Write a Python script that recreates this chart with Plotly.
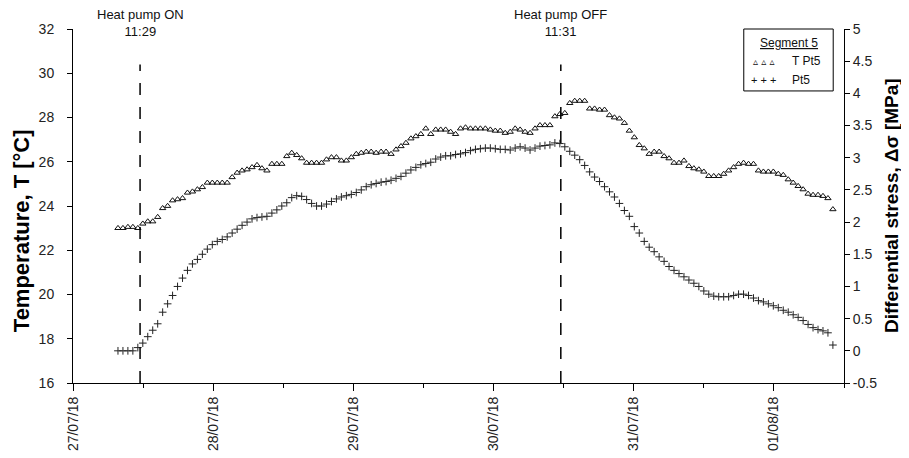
import pandas as pd
import plotly.graph_objects as go

# ---------------- data ----------------
start_time = "2018-07-27 07:42"
n_points = 145
step = "51min"

temperature_pt5 = [
    23.0, 23.0, 23.05, 23.05, 23.0, 23.2, 23.3, 23.3, 23.5, 23.9,
    24.0, 24.25, 24.3, 24.35, 24.6, 24.65, 24.75, 24.85, 25.05, 25.05,
    25.05, 25.05, 25.05, 25.3, 25.5, 25.6, 25.65, 25.75, 25.85, 25.7,
    25.6, 25.9, 25.9, 25.9, 26.25, 26.4, 26.3, 26.15, 25.95, 25.95,
    25.95, 25.95, 26.1, 26.2, 26.2, 26.05, 26.05, 26.2, 26.35, 26.4,
    26.45, 26.45, 26.4, 26.45, 26.45, 26.35, 26.55, 26.7, 26.85, 27.05,
    27.15, 27.25, 27.5, 27.25, 27.45, 27.45, 27.45, 27.35, 27.25, 27.5,
    27.55, 27.5, 27.5, 27.5, 27.5, 27.45, 27.4, 27.4, 27.3, 27.35,
    27.5, 27.45, 27.35, 27.3, 27.5, 27.65, 27.65, 27.65, 28.05, 28.15,
    28.2, 28.65, 28.75, 28.75, 28.75, 28.4, 28.4, 28.35, 28.35, 28.1,
    28.0, 27.95, 27.75, 27.4, 27.1, 26.75, 26.6, 26.35, 26.45, 26.45,
    26.25, 26.15, 25.95, 25.95, 26.05, 25.8, 25.7, 25.65, 25.55, 25.35,
    25.35, 25.35, 25.45, 25.6, 25.75, 25.9, 25.95, 25.9, 25.9, 25.6,
    25.55, 25.55, 25.55, 25.45, 25.4, 25.2, 25.05, 24.9, 24.75, 24.55,
    24.5, 24.5, 24.45, 24.35, 23.85,
]

stress_pt5 = [
    0.0, 0.0, 0.0, 0.0, 0.05, 0.12, 0.22, 0.32, 0.42, 0.6,
    0.73, 0.86, 1.0, 1.13, 1.25, 1.35, 1.42, 1.5, 1.58, 1.65,
    1.7, 1.73, 1.77, 1.83, 1.89, 1.95, 2.0, 2.05, 2.07, 2.08,
    2.09, 2.14, 2.19, 2.25, 2.3, 2.38, 2.41, 2.4, 2.35, 2.29,
    2.25, 2.25, 2.28, 2.32, 2.36, 2.39, 2.41, 2.43, 2.46, 2.5,
    2.55, 2.58, 2.6, 2.62, 2.63, 2.65, 2.68, 2.71, 2.76, 2.81,
    2.85, 2.89, 2.91, 2.93, 2.98, 3.01, 3.03, 3.03, 3.05, 3.06,
    3.08, 3.11, 3.13, 3.14, 3.15, 3.15, 3.14, 3.13, 3.13, 3.12,
    3.15, 3.17, 3.15, 3.12, 3.15, 3.18, 3.19, 3.2, 3.23, 3.22,
    3.17, 3.1, 3.04, 2.97, 2.88, 2.78, 2.7, 2.63, 2.55, 2.47,
    2.39, 2.29, 2.18, 2.09, 1.93, 1.83, 1.7, 1.61, 1.54, 1.46,
    1.39, 1.31, 1.25, 1.2, 1.15, 1.1, 1.05, 1.0, 0.93, 0.88,
    0.85, 0.84, 0.84, 0.84, 0.86, 0.88, 0.88, 0.86, 0.82, 0.78,
    0.76, 0.73, 0.7, 0.67, 0.63, 0.6, 0.56, 0.52, 0.47, 0.41,
    0.36, 0.33, 0.31, 0.28, 0.09,
]

x_tick_dates = ["2018-07-27", "2018-07-28", "2018-07-29", "2018-07-30", "2018-07-31", "2018-08-01"]
x_tick_labels = ["27/07/18", "28/07/18", "29/07/18", "30/07/18", "31/07/18", "01/08/18"]
x_minor_dates = ["2018-07-27 12:00", "2018-07-28 12:00", "2018-07-29 12:00",
                 "2018-07-30 12:00", "2018-07-31 12:00", "2018-08-01 12:00"]
x_range = ["2018-07-27 00:00", "2018-08-01 12:00"]

left_ticks = [16, 18, 20, 22, 24, 26, 28, 30, 32]
right_ticks = [-0.5, 0, 0.5, 1, 1.5, 2, 2.5, 3, 3.5, 4, 4.5, 5]
right_tick_labels = ["-0.5", "0", "0.5", "1", "1.5", "2", "2.5", "3", "3.5", "4", "4.5", "5"]

events = ["2018-07-27 11:29", "2018-07-30 11:31"]
event_labels = ["Heat pump ON<br>11:29", "Heat pump OFF<br>11:31"]

times = pd.date_range(start_time, periods=n_points, freq=step)

FONT = "Liberation Sans, Arial, sans-serif"

fig = go.Figure()
fig.add_trace(go.Scatter(
    x=times, y=temperature_pt5, mode="markers", name="T Pt5",
    marker=dict(symbol="triangle-up-open", size=5.5, color="#111",
                line=dict(width=1, color="#111")),
    yaxis="y", showlegend=False,
))
fig.add_trace(go.Scatter(
    x=times, y=stress_pt5, mode="markers", name="Pt5",
    marker=dict(symbol="cross-thin-open", size=5.5, color="#222",
                line=dict(width=1, color="#222")),
    yaxis="y2", showlegend=False,
))

# event dashed lines and labels
for t, lab in zip(events, event_labels):
    fig.add_shape(type="line", xref="x", yref="paper", x0=t, x1=t, y0=0, y1=0.9,
                  line=dict(color="black", width=1.5, dash="12px,12px"))
    fig.add_annotation(x=t, xref="x", y=1, yref="paper", xanchor="center", yanchor="middle",
                       yshift=6, text=lab, showarrow=False, align="center",
                       font=dict(family=FONT, size=13, color="#111"))

# legend box (manual)
fig.add_shape(type="rect", xref="paper", yref="paper", x0=0.870, x1=0.986, y0=0.825, y1=1.0,
              line=dict(color="black", width=1), fillcolor="white")
fig.add_annotation(x=0.929, y=0.960, xref="paper", yref="paper", xanchor="center", yanchor="middle",
                   text="<u>Segment 5</u>", showarrow=False,
                   font=dict(family=FONT, size=12, color="#111"))
fig.add_annotation(x=0.896, y=0.909, xref="paper", yref="paper", xanchor="center", yanchor="middle",
                   text="▵ ▵ ▵", showarrow=False,
                   font=dict(family="DejaVu Sans", size=10, color="#111"))
fig.add_annotation(x=0.930, y=0.909, xref="paper", yref="paper", xanchor="left", yanchor="middle",
                   text="T Pt5", showarrow=False,
                   font=dict(family=FONT, size=12, color="#111"))
fig.add_annotation(x=0.896, y=0.855, xref="paper", yref="paper", xanchor="center", yanchor="middle",
                   text="+ + +", showarrow=False,
                   font=dict(family=FONT, size=11, color="#111"))
fig.add_annotation(x=0.930, y=0.855, xref="paper", yref="paper", xanchor="left", yanchor="middle",
                   text="Pt5", showarrow=False,
                   font=dict(family=FONT, size=12, color="#111"))

# axis titles (placed as annotations for exact positions)
fig.add_annotation(x=-0.0674, y=0.429, xref="paper", yref="paper", xanchor="center",
                   yanchor="middle", textangle=-90,
                   text="<b>Temperature, T [°C]</b>", showarrow=False,
                   font=dict(family=FONT, size=22, color="black"))
fig.add_annotation(x=1.061, y=0.5, xref="paper", yref="paper", xanchor="center",
                   yanchor="middle", textangle=-90,
                   text="<b>Differential stress, Δσ [MPa]</b>", showarrow=False,
                   font=dict(family=FONT, size=19, color="black"))

# page body has an 8px default margin, so margins are offset accordingly
fig.update_layout(
    width=909, height=458,
    margin=dict(l=65, r=73, t=21, b=83, autoexpand=False),
    paper_bgcolor="white", plot_bgcolor="white",
    font=dict(family=FONT, color="#111"),
    showlegend=False,
    xaxis=dict(
        type="date", range=x_range, automargin=False,
        tickmode="array", tickvals=x_tick_dates, ticktext=x_tick_labels,
        tickangle=-90, tickfont=dict(size=14, color="#222"),
        ticks="outside", ticklen=7, tickcolor="black",
        minor=dict(tickmode="array", tickvals=x_minor_dates, ticks="outside", ticklen=4,
                   tickcolor="black"),
        showline=True, linecolor="black", linewidth=1,
        showgrid=False, zeroline=False,
    ),
    yaxis=dict(
        range=[16, 32], tickmode="array", tickvals=left_ticks, automargin=False,
        ticks="outside", ticklen=5, tickcolor="black",
        tickfont=dict(size=14, color="#222"), ticklabelstandoff=10,
        showline=True, linecolor="black", linewidth=1,
        showgrid=False, zeroline=False,
    ),
    yaxis2=dict(
        range=[-0.5, 5], overlaying="y", side="right", anchor="x", automargin=False,
        tickmode="array", tickvals=right_ticks, ticktext=right_tick_labels,
        ticks="outside", ticklen=5, tickcolor="black",
        tickfont=dict(size=14, color="#222"),
        showline=True, linecolor="black", linewidth=1,
        showgrid=False, zeroline=False,
    ),
)

fig.write_html("out.html")
